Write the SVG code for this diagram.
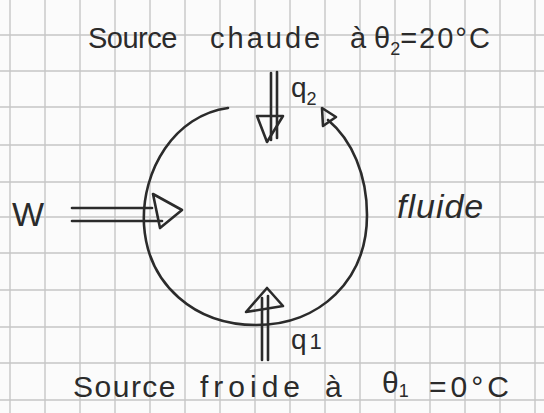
<svg xmlns="http://www.w3.org/2000/svg" width="544" height="413" viewBox="0 0 544 413">
<style>
.grid line{stroke:#c6c6c6;stroke-width:1.4}
.ink{fill:none;stroke:#2b2b2b;stroke-width:2.6;stroke-linecap:round;stroke-linejoin:round}
.t{font-family:"Liberation Sans","DejaVu Sans",sans-serif;fill:#2b2b2b}
</style>
<rect width="544" height="413" fill="#fbfbfb"/>
<g class="grid">
<line x1="10" y1="0" x2="10" y2="413"/><line x1="45" y1="0" x2="45" y2="413"/><line x1="80" y1="0" x2="80" y2="413"/><line x1="115" y1="0" x2="115" y2="413"/><line x1="150" y1="0" x2="150" y2="413"/><line x1="185" y1="0" x2="185" y2="413"/><line x1="220" y1="0" x2="220" y2="413"/><line x1="255" y1="0" x2="255" y2="413"/><line x1="290" y1="0" x2="290" y2="413"/><line x1="325" y1="0" x2="325" y2="413"/><line x1="360" y1="0" x2="360" y2="413"/><line x1="395" y1="0" x2="395" y2="413"/><line x1="430" y1="0" x2="430" y2="413"/><line x1="465" y1="0" x2="465" y2="413"/><line x1="500" y1="0" x2="500" y2="413"/><line x1="535" y1="0" x2="535" y2="413"/>
<line x1="0" y1="35" x2="544" y2="35"/><line x1="0" y1="71" x2="544" y2="71"/><line x1="0" y1="107" x2="544" y2="107"/><line x1="0" y1="145" x2="544" y2="145"/><line x1="0" y1="182" x2="544" y2="182"/><line x1="0" y1="217" x2="544" y2="217"/><line x1="0" y1="253" x2="544" y2="253"/><line x1="0" y1="290" x2="544" y2="290"/><line x1="0" y1="327" x2="544" y2="327"/><line x1="0" y1="363" x2="544" y2="363"/><line x1="0" y1="400" x2="544" y2="400"/>
</g>
<g id="hot-source">
<text class="t" font-size="29" y="48"><tspan x="88" letter-spacing="-0.5">Source</tspan><tspan x="210" letter-spacing="3">chaude</tspan><tspan x="350">à</tspan><tspan x="374">θ</tspan><tspan font-size="18" dy="7">2</tspan><tspan dy="-7" letter-spacing="2">=20°C</tspan></text>
</g>
<g id="cold-source">
<text class="t" font-size="30" y="397"><tspan x="73" letter-spacing="1.5">Source</tspan><tspan x="200" letter-spacing="5">froide</tspan><tspan x="325">à</tspan><tspan x="382" dy="-4">θ</tspan><tspan font-size="18" dy="4">1</tspan><tspan x="429" letter-spacing="4">=0°C</tspan></text>
</g>
<g id="fluid">
<path class="ink" d="M328,120 C352,140 367,175 367,215 C367,280 320,325 256,325 C195,325 148,285 144,225 C141,170 175,115 228,108"/>
<polygon class="ink" points="322,108 336,117 323,126"/>
<text class="t" font-size="34" font-style="italic" x="397" y="218" letter-spacing="1">fluide</text>
</g>
<g id="work">
<text class="t" font-size="34" x="12" y="226">W</text>
</g>
<g id="q2-label">
<text class="t" font-size="28" x="291" y="97">q<tspan font-size="18" dy="8">2</tspan></text>
</g>
<g id="q1-label">
<text class="t" font-size="28" x="291" y="349">q<tspan font-size="22" dx="3">1</tspan></text>
</g>
<g id="connectors">
<g id="arrow-q2">
<line class="ink" x1="271" y1="73" x2="271" y2="140"/>
<line class="ink" x1="277" y1="72" x2="277" y2="138"/>
<polygon class="ink" points="257,116 283,116 267,142"/>
</g>
<g id="arrow-w">
<line class="ink" x1="72" y1="208" x2="152" y2="208"/>
<line class="ink" x1="72" y1="221" x2="162" y2="221"/>
<polygon class="ink" points="153,194 182,210 160,228"/>
</g>
<g id="arrow-q1">
<line class="ink" x1="262" y1="360" x2="262" y2="298"/>
<line class="ink" x1="268" y1="360" x2="268" y2="296"/>
<polygon class="ink" points="246,312 267,288 283,306"/>
</g>
</g>
</svg>
